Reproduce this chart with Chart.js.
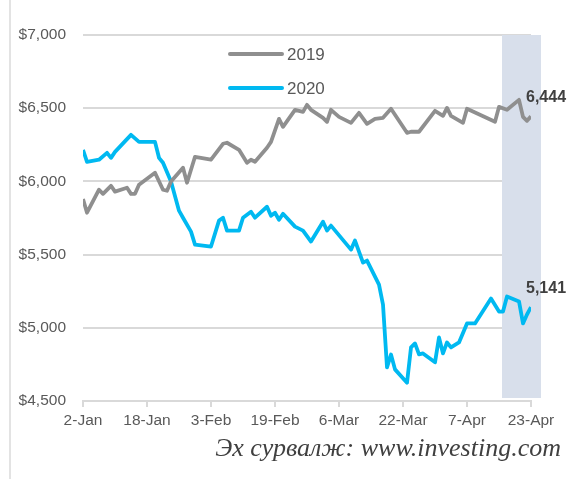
<!DOCTYPE html>
<html>
<head>
<meta charset="utf-8">
<script src="https://cdn.jsdelivr.net/npm/chart.js@4.4.1/dist/chart.umd.min.js"></script>
<style>
  body { margin: 0; background: #fff; }
  #wrap { position: relative; width: 575px; height: 479px; }
  #frame { position: absolute; left: 9px; top: 0; width: 2px; height: 479px; background: #e3e3e3; }
  #source {
    position: absolute; right: 14px; top: 432px;
    font-family: "Liberation Serif", "DejaVu Serif", serif; font-style: italic;
    font-size: 26px; line-height: 32px; color: #404040; white-space: nowrap;
  }
</style>
</head>
<body>
<div id="wrap">
  <div id="frame"></div>
  <canvas id="chart" width="575" height="479"></canvas>
  <div id="source">Эх сурвалж: www.investing.com</div>
</div>
<script>
// Тэнхлэгийн шошго (2-Jan-аас хойшхи өдөр, 16 хоног тутам)
const xTickLabels = ['2-Jan', '18-Jan', '3-Feb', '19-Feb', '6-Mar', '22-Mar', '7-Apr', '23-Apr'];
const yTicks = [4500, 5000, 5500, 6000, 6500, 7000];

// 2019 он - өдөр, үнэ
const days2019 = [0, 1, 4, 5, 7, 8, 11, 12, 13, 14, 18, 20, 21, 22, 25, 26, 28, 32, 35, 36, 39, 41, 42, 43, 46, 47, 49, 50, 53, 55, 56, 57, 60, 61, 62, 64, 67, 69, 71, 73, 75, 77, 81, 82, 84, 88, 90, 91, 92, 95, 96, 103, 104, 106, 109, 110, 111, 112];
const values2019 = [5880, 5786, 5943, 5915, 5970, 5930, 5957, 5915, 5915, 5977, 6059, 5943, 5936, 6000, 6093, 5991, 6168, 6148, 6257, 6264, 6216, 6127, 6148, 6134, 6230, 6270, 6427, 6373, 6489, 6475, 6523, 6489, 6434, 6407, 6489, 6441, 6400, 6468, 6393, 6427, 6434, 6496, 6332, 6339, 6339, 6482, 6448, 6502, 6448, 6400, 6496, 6407, 6509, 6489, 6557, 6441, 6414, 6444];

// 2020 он - өдөр, үнэ
const days2020 = [0, 1, 4, 6, 7, 8, 12, 14, 18, 19, 20, 22, 24, 25, 27, 28, 32, 34, 35, 36, 39, 40, 42, 43, 46, 47, 48, 49, 50, 53, 55, 57, 60, 61, 62, 67, 68, 69, 70, 71, 74, 75, 76, 77, 78, 81, 82, 83, 84, 85, 88, 89, 90, 91, 92, 94, 96, 98, 102, 104, 105, 106, 109, 110, 111, 112];
const values2020 = [6215, 6134, 6148, 6195, 6161, 6202, 6318, 6270, 6270, 6161, 6127, 6000, 5800, 5752, 5657, 5568, 5555, 5732, 5752, 5664, 5664, 5752, 5793, 5752, 5827, 5766, 5786, 5738, 5779, 5691, 5664, 5589, 5725, 5664, 5698, 5534, 5596, 5521, 5445, 5459, 5295, 5159, 4730, 4818, 4716, 4625, 4866, 4893, 4818, 4825, 4764, 4934, 4825, 4900, 4866, 4900, 5030, 5030, 5200, 5111, 5111, 5214, 5180, 5030, 5091, 5141];

// Сүүлийн 7 хоногийг тодруулсан хэсэг (өдрөөр)
const shadeFrom = 104.75;
const shadeTo = 114.5;

const toPoints = (xs, ys) => xs.map((d, i) => ({ x: d, y: ys[i] }));
const fmt = v => Number(v).toLocaleString('en-US');

const shadePlugin = {
  id: 'shade',
  beforeDatasetsDraw(chart) {
    const { ctx, chartArea, scales } = chart;
    const x1 = scales.x.getPixelForValue(shadeFrom);
    const x2 = scales.x.getPixelForValue(shadeTo);
    ctx.save();
    ctx.fillStyle = '#d8dfeb';
    ctx.fillRect(x1, chartArea.top, x2 - x1, chartArea.bottom - chartArea.top - 3);
    ctx.restore();
  }
};

// Эцсийн утгын шошго ба домог
const labelsPlugin = {
  id: 'endLabels',
  afterDatasetsDraw(chart) {
    const { ctx } = chart;
    ctx.save();
    ctx.font = 'bold 16px "Liberation Sans", Arial, sans-serif';
    ctx.fillStyle = '#404040';
    ctx.textBaseline = 'middle';
    chart.data.datasets.forEach((ds, i) => {
      const meta = chart.getDatasetMeta(i);
      const last = meta.data[meta.data.length - 1];
      ctx.fillText(fmt(ds.data[ds.data.length - 1].y), last.x - 5, last.y - 19);
    });

    // домог
    const lx = 230, ly = [54, 88];
    ctx.font = '17px "Liberation Sans", Arial, sans-serif';
    ctx.fillStyle = '#595959';
    chart.data.datasets.forEach((ds, i) => {
      ctx.strokeStyle = ds.borderColor;
      ctx.lineWidth = 4;
      ctx.lineCap = 'round';
      ctx.beginPath();
      ctx.moveTo(lx, ly[i]);
      ctx.lineTo(lx + 52, ly[i]);
      ctx.stroke();
      ctx.fillText(ds.label, lx + 57, ly[i] + 1);
    });
    ctx.restore();
  }
};

new Chart(document.getElementById('chart'), {
  type: 'line',
  data: {
    datasets: [
      {
        label: '2019',
        data: toPoints(days2019, values2019),
        borderColor: '#8f8f8f',
        borderWidth: 3.8,
        pointRadius: 0,
        tension: 0,
        borderJoinStyle: 'round'
      },
      {
        label: '2020',
        data: toPoints(days2020, values2020),
        borderColor: '#00b9f1',
        borderWidth: 3.8,
        pointRadius: 0,
        tension: 0,
        borderJoinStyle: 'round'
      }
    ]
  },
  options: {
    responsive: false,
    animation: false,
    layout: { padding: { top: 35, right: 44, left: 0, bottom: 0 } },
    plugins: { legend: { display: false }, tooltip: { enabled: false } },
    scales: {
      x: {
        type: 'linear',
        min: 0,
        max: 112,
        afterBuildTicks(scale) {
          scale.ticks = xTickLabels.map((_, i) => ({ value: i * 16 }));
        },
        afterFit(scale) { scale.height = 78; },
        ticks: {
          callback: (v) => xTickLabels[v / 16],
          color: '#595959',
          font: { family: '"Liberation Sans", Arial, sans-serif', size: 15.5 },
          padding: 4,
          maxRotation: 0,
          autoSkip: false
        },
        grid: { drawOnChartArea: false, color: '#d9d9d9', lineWidth: 2, tickLength: 6 },
        border: { color: '#d9d9d9', width: 2 }
      },
      y: {
        min: yTicks[0],
        max: yTicks[yTicks.length - 1],
        afterBuildTicks(scale) {
          scale.ticks = yTicks.map(v => ({ value: v }));
        },
        afterFit(scale) { scale.width = 83; },
        ticks: {
          callback: (v) => '$' + fmt(v),
          color: '#595959',
          font: { family: '"Liberation Sans", Arial, sans-serif', size: 15.5 },
          padding: 17
        },
        grid: { color: '#d9d9d9', lineWidth: 2, drawTicks: false },
        border: { display: false }
      }
    }
  },
  plugins: [shadePlugin, labelsPlugin]
});
</script>
</body>
</html>
